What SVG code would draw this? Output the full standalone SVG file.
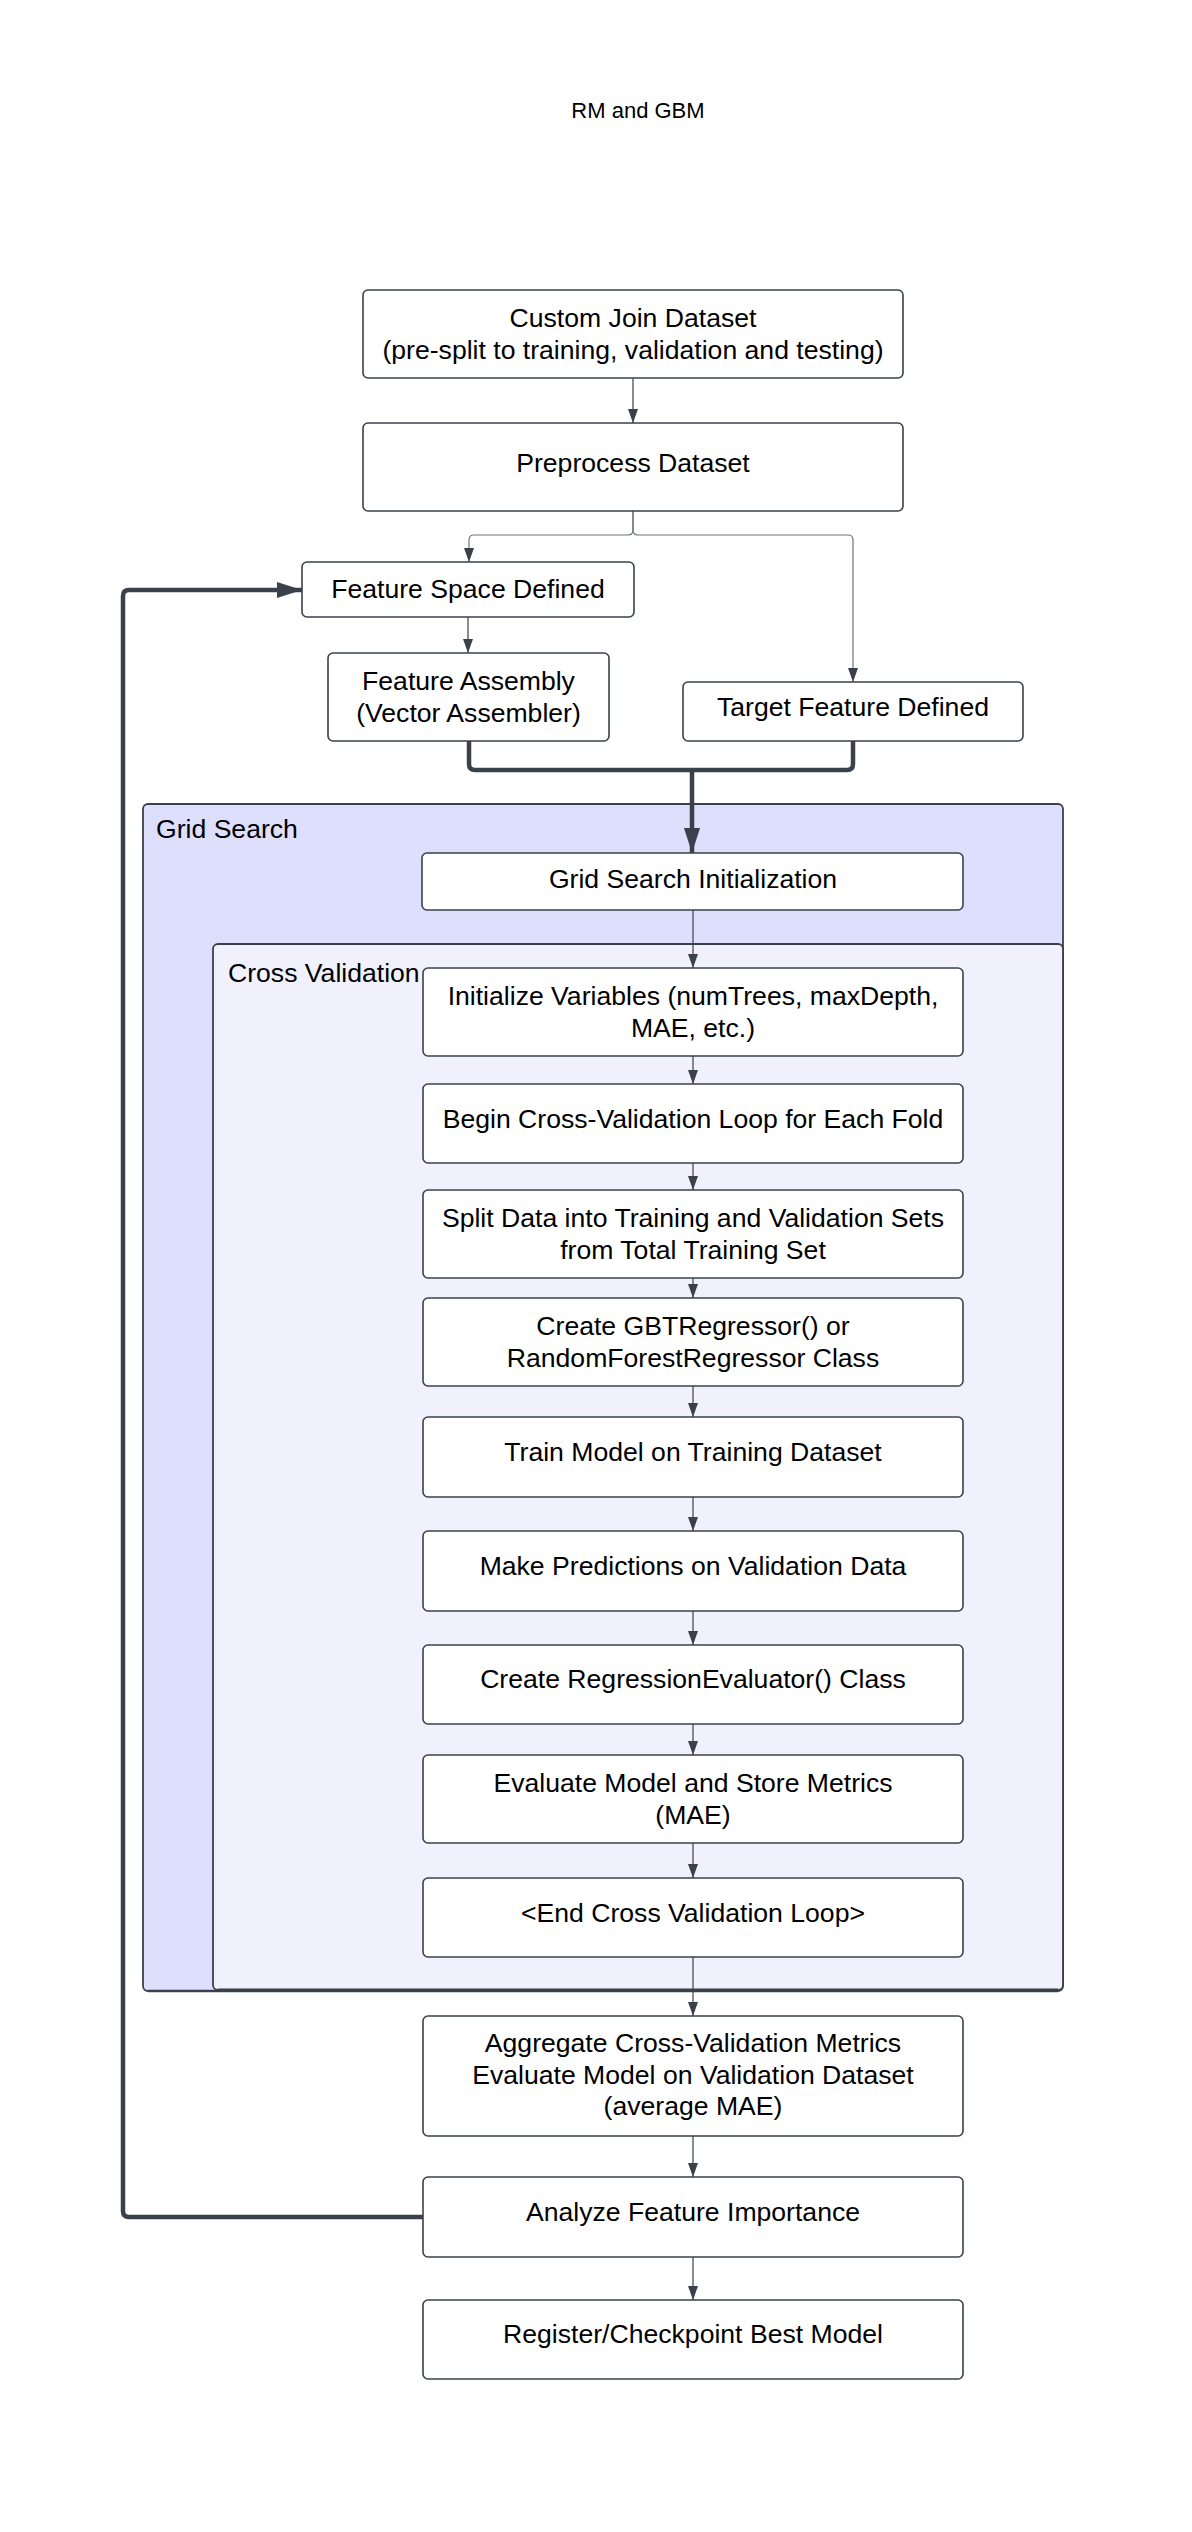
<svg xmlns="http://www.w3.org/2000/svg" width="1192" height="2532" viewBox="0 0 1192 2532">
  <style>
    .node rect { fill: #ffffff; stroke: #3a414a; stroke-width: 1.6; }
    .lbl { font-family: "Liberation Sans", Arial, sans-serif; font-size: 26.6px; fill: #000000; text-anchor: middle; }
    .cap { font-family: "Liberation Sans", Arial, sans-serif; font-size: 26.6px; fill: #000000; }
    .title { font-family: "Liberation Sans", Arial, sans-serif; font-size: 22px; fill: #000000; text-anchor: middle; }
    .thin { fill: none; stroke: #3a414a; stroke-width: 1.2; marker-end: url(#arrowThin); }
    .branch { fill: none; stroke: #6f747b; stroke-width: 1.2; }
    .thick { fill: none; stroke: #3a414a; stroke-width: 4.5; stroke-linejoin: round; }
  </style>
  <defs>
    <marker id="arrowThin" markerUnits="userSpaceOnUse" markerWidth="14" markerHeight="10" refX="14" refY="5" orient="auto">
      <path d="M0,0 L14,5 L0,10 z" fill="#3a414a"/>
    </marker>
    <marker id="arrowThick" markerUnits="userSpaceOnUse" markerWidth="25" markerHeight="16" refX="25" refY="8" orient="auto">
      <path d="M0,0 L25,8 L0,16 z" fill="#3a414a"/>
    </marker>
  </defs>

  <rect x="0" y="0" width="1192" height="2532" fill="#ffffff"/>

  <text class="title" x="638" y="118">RM and GBM</text>

  <!-- containers -->
  <g id="grid-search">
    <rect x="143" y="804" width="920" height="1187" rx="5" fill="#dedffc" stroke="#3a414a" stroke-width="1.8"/>
    <line x1="148" y1="1991" x2="1058" y2="1991" stroke="#3a414a" stroke-width="2.5"/>
    <text class="cap" x="156" y="838">Grid Search</text>
  </g>
  <g id="cross-validation">
    <rect x="213" y="944" width="850" height="1046" rx="5" fill="#f1f1fd" stroke="#3a414a" stroke-width="1.8"/>
    <line x1="218" y1="1990" x2="1058" y2="1990" stroke="#3a414a" stroke-width="3"/>
    <text class="cap" x="228" y="982">Cross Validation</text>
  </g>

  <!-- connectors -->
  <g id="connectors">
    <path class="thin" d="M633,378 V423"/>
    <path class="branch" d="M633,511 V530 Q633,535 628,535 H474 Q469,535 469,540 V562" marker-end="url(#arrowThin)"/>
    <path class="branch" d="M633,511 V530 Q633,535 638,535 H848 Q853,535 853,540 V682" marker-end="url(#arrowThin)"/>
    <path class="thin" d="M468,617 V653"/>
    <path class="thick" d="M469,741 V764 Q469,770 475,770 H847 Q853,770 853,764 V741"/>
    <path class="thick" d="M692,770 V853" marker-end="url(#arrowThick)"/>
    <path class="thin" d="M693,910 V968"/>
    <path class="thin" d="M693,1056 V1084"/>
    <path class="thin" d="M693,1163 V1190"/>
    <path class="thin" d="M693,1278 V1298"/>
    <path class="thin" d="M693,1386 V1417"/>
    <path class="thin" d="M693,1497 V1531"/>
    <path class="thin" d="M693,1611 V1645"/>
    <path class="thin" d="M693,1724 V1755"/>
    <path class="thin" d="M693,1843 V1878"/>
    <path class="thin" d="M693,1957 V2016"/>
    <path class="thin" d="M693,2136 V2177"/>
    <path class="thin" d="M693,2257 V2300"/>
    <path class="thick" d="M423,2217 H129 Q123,2217 123,2211 V596 Q123,590 129,590 H302" marker-end="url(#arrowThick)"/>
  </g>

  <!-- nodes -->
  <g id="custom-join" class="node">
    <rect x="363" y="290" width="540" height="88" rx="5"/>
    <text class="lbl" x="633" y="327">Custom Join Dataset</text>
    <text class="lbl" x="633" y="359">(pre-split to training, validation and testing)</text>
  </g>
  <g id="preprocess" class="node">
    <rect x="363" y="423" width="540" height="88" rx="5"/>
    <text class="lbl" x="633" y="472">Preprocess Dataset</text>
  </g>
  <g id="feature-space" class="node">
    <rect x="302" y="562" width="332" height="55" rx="5"/>
    <text class="lbl" x="468" y="598">Feature Space Defined</text>
  </g>
  <g id="feature-assembly" class="node">
    <rect x="328" y="653" width="281" height="88" rx="5"/>
    <text class="lbl" x="468.5" y="690">Feature Assembly</text>
    <text class="lbl" x="468.5" y="722">(Vector Assembler)</text>
  </g>
  <g id="target-feature" class="node">
    <rect x="683" y="682" width="340" height="59" rx="5"/>
    <text class="lbl" x="853" y="716">Target Feature Defined</text>
  </g>
  <g id="grid-init" class="node">
    <rect x="422" y="853" width="541" height="57" rx="5"/>
    <text class="lbl" x="693" y="888">Grid Search Initialization</text>
  </g>
  <g id="init-vars" class="node">
    <rect x="423" y="968" width="540" height="88" rx="5"/>
    <text class="lbl" x="693" y="1005">Initialize Variables (numTrees, maxDepth,</text>
    <text class="lbl" x="693" y="1037">MAE, etc.)</text>
  </g>
  <g id="begin-loop" class="node">
    <rect x="423" y="1084" width="540" height="79" rx="5"/>
    <text class="lbl" x="693" y="1128">Begin Cross-Validation Loop for Each Fold</text>
  </g>
  <g id="split-data" class="node">
    <rect x="423" y="1190" width="540" height="88" rx="5"/>
    <text class="lbl" x="693" y="1227">Split Data into Training and Validation Sets</text>
    <text class="lbl" x="693" y="1259">from Total Training Set</text>
  </g>
  <g id="create-regressor" class="node">
    <rect x="423" y="1298" width="540" height="88" rx="5"/>
    <text class="lbl" x="693" y="1335">Create GBTRegressor() or</text>
    <text class="lbl" x="693" y="1367">RandomForestRegressor Class</text>
  </g>
  <g id="train-model" class="node">
    <rect x="423" y="1417" width="540" height="80" rx="5"/>
    <text class="lbl" x="693" y="1461">Train Model on Training Dataset</text>
  </g>
  <g id="predict" class="node">
    <rect x="423" y="1531" width="540" height="80" rx="5"/>
    <text class="lbl" x="693" y="1575">Make Predictions on Validation Data</text>
  </g>
  <g id="create-evaluator" class="node">
    <rect x="423" y="1645" width="540" height="79" rx="5"/>
    <text class="lbl" x="693" y="1688">Create RegressionEvaluator() Class</text>
  </g>
  <g id="evaluate-model" class="node">
    <rect x="423" y="1755" width="540" height="88" rx="5"/>
    <text class="lbl" x="693" y="1792">Evaluate Model and Store Metrics</text>
    <text class="lbl" x="693" y="1824">(MAE)</text>
  </g>
  <g id="end-loop" class="node">
    <rect x="423" y="1878" width="540" height="79" rx="5"/>
    <text class="lbl" x="693" y="1922">&lt;End Cross Validation Loop&gt;</text>
  </g>
  <g id="aggregate" class="node">
    <rect x="423" y="2016" width="540" height="120" rx="5"/>
    <text class="lbl" x="693" y="2052">Aggregate Cross-Validation Metrics</text>
    <text class="lbl" x="693" y="2084">Evaluate Model on Validation Dataset</text>
    <text class="lbl" x="693" y="2115">(average MAE)</text>
  </g>
  <g id="feature-importance" class="node">
    <rect x="423" y="2177" width="540" height="80" rx="5"/>
    <text class="lbl" x="693" y="2221">Analyze Feature Importance</text>
  </g>
  <g id="register-model" class="node">
    <rect x="423" y="2300" width="540" height="79" rx="5"/>
    <text class="lbl" x="693" y="2343">Register/Checkpoint Best Model</text>
  </g>
</svg>
